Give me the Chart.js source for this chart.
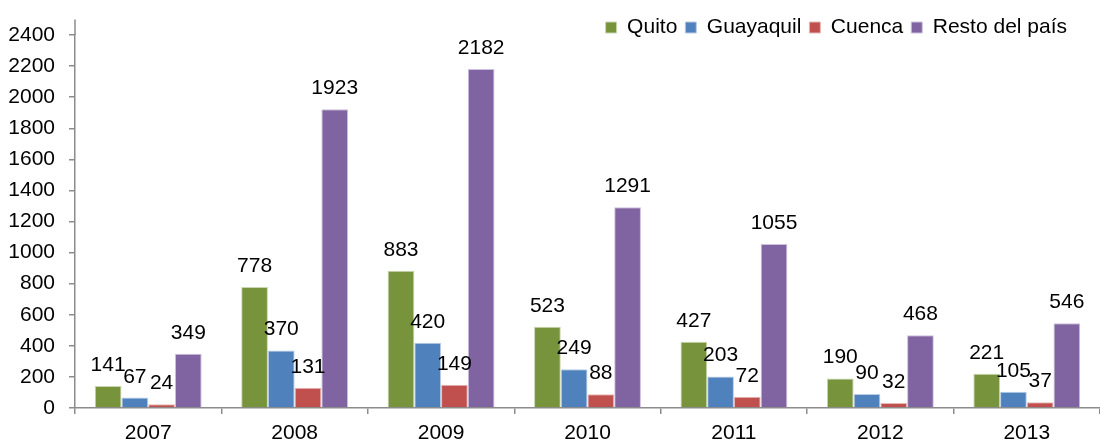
<!DOCTYPE html>
<html>
<head>
<meta charset="utf-8">
<script src="https://cdn.jsdelivr.net/npm/chart.js@4/dist/chart.umd.min.js"></script>
<style>
  html, body { margin: 0; padding: 0; background: #fff; }
  #wrap { width: 1100px; height: 441px; }
</style>
</head>
<body>
<div id="wrap"><canvas id="chart"></canvas></div>
<script>
// years on the x axis
const years = ['2007', '2008', '2009', '2010', '2011', '2012', '2013'];

// values per city / region
const quito = [141, 778, 883, 523, 427, 190, 221];
const guayaquil = [67, 370, 420, 249, 203, 90, 105];
const cuenca = [24, 131, 149, 88, 72, 32, 37];
const resto = [349, 1923, 2182, 1291, 1055, 468, 546];

// y axis tick values
const yTicks = [0, 200, 400, 600, 800, 1000, 1200, 1400, 1600, 1800, 2000, 2200, 2400];

const FONT = { family: 'Arial, "Liberation Sans", sans-serif', size: 21 };
const AXIS_GRAY = '#8c8c8c';

// value labels above each bar (Excel style)
const valueLabels = {
  id: 'valueLabels',
  afterDatasetsDraw(chart) {
    const ctx = chart.ctx;
    ctx.save();
    ctx.font = `${FONT.size}px ${FONT.family}`;
    ctx.fillStyle = '#000';
    ctx.textAlign = 'center';
    ctx.textBaseline = 'alphabetic';
    chart.data.datasets.forEach((ds, i) => {
      const meta = chart.getDatasetMeta(i);
      meta.data.forEach((bar, j) => {
        ctx.fillText(String(ds.data[j]), bar.x, bar.y - 15);
      });
    });
    ctx.restore();
  }
};

// y axis line runs a bit above the last tick, as in the original
const axisTop = {
  id: 'axisTop',
  afterDraw(chart) {
    const y = chart.scales.y;
    const ctx = chart.ctx;
    ctx.save();
    ctx.strokeStyle = AXIS_GRAY;
    ctx.lineWidth = 1.5;
    ctx.beginPath();
    ctx.moveTo(chart.chartArea.left, y.getPixelForValue(2400));
    ctx.lineTo(chart.chartArea.left, y.getPixelForValue(2500));
    ctx.stroke();
    ctx.restore();
  }
};

// legend sits a little in from the right edge and overlaps the plot top
const legendShift = {
  id: 'legendShift',
  afterLayout(chart) {
    chart.legend.left -= 25;
    chart.legend.right -= 25;
    chart.legend.bottom += 14;
  }
};

const makeSet = (label, data, color, edge) => ({
  label: label,
  data: data,
  backgroundColor: color,
  borderColor: edge,
  borderWidth: 1,
  barPercentage: 1,
  categoryPercentage: 0.73
});

new Chart(document.getElementById('chart'), {
  type: 'bar',
  data: {
    labels: years,
    datasets: [
      makeSet('Quito', quito, '#77933C', '#c9d6ae'),
      makeSet('Guayaquil', guayaquil, '#4F81BD', '#b9cde6'),
      makeSet('Cuenca', cuenca, '#C0504D', '#e6b9b8'),
      makeSet('Resto del país', resto, '#8064A2', '#cdc0de')
    ]
  },
  options: {
    responsive: true,
    maintainAspectRatio: false,
    animation: false,
    layout: { padding: { top: 9, left: 0, right: 0, bottom: 0 } },
    plugins: {
      legend: {
        position: 'top',
        align: 'end',
        maxHeight: 26,
        labels: {
          boxWidth: 11,
          boxHeight: 11,
          padding: 8,
          color: '#000',
          font: FONT
        }
      },
      tooltip: { enabled: false }
    },
    scales: {
      x: {
        grid: {
          offset: true,
          drawOnChartArea: false,
          tickLength: 6,
          color: AXIS_GRAY,
          lineWidth: 1.5
        },
        border: { color: AXIS_GRAY, width: 1.5 },
        ticks: { color: '#000', font: FONT, padding: 7, maxRotation: 0 },
        afterFit(axis) { axis.height = 33; }
      },
      y: {
        min: 0,
        max: 2400,
        afterBuildTicks(axis) { axis.ticks = yTicks.map(v => ({ value: v })); },
        grid: {
          drawOnChartArea: false,
          tickLength: 6,
          color: AXIS_GRAY,
          lineWidth: 1.5
        },
        border: { color: AXIS_GRAY, width: 1.5 },
        ticks: {
          color: '#000',
          font: FONT,
          padding: 14,
          callback: (v) => String(v)
        },
        afterFit(axis) { axis.width = 75; }
      }
    }
  },
  plugins: [valueLabels, axisTop, legendShift]
});
</script>
</body>
</html>
